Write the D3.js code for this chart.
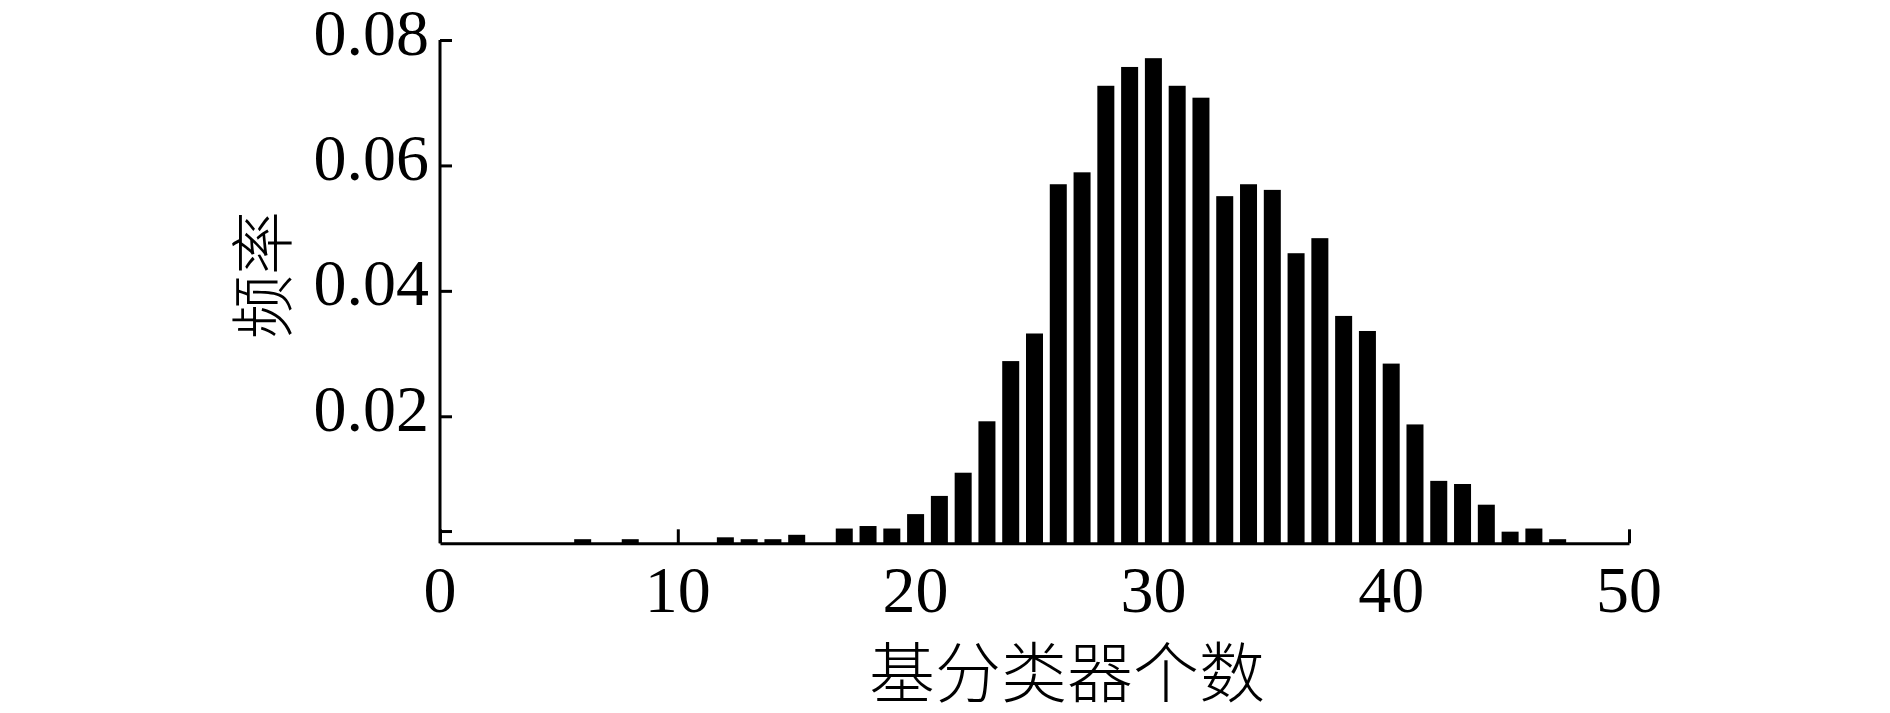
<!DOCTYPE html>
<html lang="zh">

<head>
    <meta charset="UTF-8">
    <title>基分类器个数 频率</title>
    <script src="https://d3js.org/d3.v7.min.js"></script>
    <style>
        body {
            margin: 0;
            padding: 0;
            background: white;
        }

        .tick-label {
            font-family: "Liberation Serif", "Times New Roman", serif;
            font-size: 66px;
            fill: black;
        }

        .cjk {
            font-family: "Noto Sans CJK SC", sans-serif;
            font-weight: 300;
            fill: black;
        }
    </style>
</head>

<body>
    <div id="main"></div>

    <script>
        // number of base classifiers (bins) and their frequency
        var bins = [6, 8, 12, 13, 14, 15, 17, 18, 19, 20, 21, 22, 23, 24, 25, 26, 27, 28, 29, 30,
            31, 32, 33, 34, 35, 36, 37, 38, 39, 40, 41, 42, 43, 44, 45, 46, 47];
        var freq = [0.0004, 0.0004, 0.0007, 0.0004, 0.0004, 0.0011, 0.0021, 0.0025, 0.0021, 0.0044,
            0.0073, 0.0110, 0.0192, 0.0288, 0.0332, 0.0570, 0.0589, 0.0727, 0.0757, 0.0771,
            0.0727, 0.0708, 0.0551, 0.0570, 0.0561, 0.0460, 0.0484, 0.0360, 0.0336, 0.0284,
            0.0187, 0.0097, 0.0092, 0.0059, 0.0016, 0.0021, 0.0004];

        var xTicks = [0, 10, 20, 30, 40, 50];
        var yTicks = [0.0017, 0.02, 0.04, 0.06, 0.08];
        var yTickLabels = ["", "0.02", "0.04", "0.06", "0.08"];

        var xLabel = "基分类器个数";
        var yLabel = "频率";

        var width = 1890;
        var height = 713;

        var svg = d3.select("#main")
            .append("svg")
            .attr("width", width)
            .attr("height", height);

        svg.append("rect")
            .attr("width", width)
            .attr("height", height)
            .attr("fill", "white");

        var x = d3.scaleLinear()
            .domain([0, 50])
            .range([440, 1629]);

        var y = d3.scaleLinear()
            .domain([0, 0.08])
            .range([541.7, 40]);

        var baseY = 543.3;
        var barW = 17;

        // bars
        svg.selectAll(".bar")
            .data(bins)
            .enter()
            .append("rect")
            .attr("class", "bar")
            .attr("x", function(d) { return x(d) - barW / 2 })
            .attr("y", function(d, i) { return y(freq[i]) })
            .attr("width", barW)
            .attr("height", function(d, i) { return baseY - y(freq[i]) })
            .attr("fill", "black");

        // x axis: ticks point inward, no domain past 50
        var xAxis = d3.axisBottom(x)
            .tickValues(xTicks)
            .tickSize(-14)
            .tickSizeOuter(0)
            .tickFormat("");

        var gx = svg.append("g")
            .attr("transform", "translate(0," + baseY + ")")
            .call(xAxis);
        gx.select(".domain").attr("stroke-width", 3);
        gx.selectAll(".tick line").attr("stroke-width", 3);

        svg.selectAll(".xlab")
            .data(xTicks)
            .enter()
            .append("text")
            .attr("class", "tick-label")
            .attr("x", function(d) { return x(d) })
            .attr("y", 612)
            .attr("text-anchor", "middle")
            .text(function(d) { return d });

        // y axis
        var yAxis = d3.axisLeft(y)
            .tickValues(yTicks)
            .tickSize(-12)
            .tickSizeOuter(0)
            .tickFormat("");

        var gy = svg.append("g")
            .attr("transform", "translate(440,0)")
            .call(yAxis);
        gy.select(".domain")
            .attr("d", "M0," + y(0.08) + "V" + baseY)
            .attr("stroke-width", 3);
        gy.selectAll(".tick line").attr("stroke-width", 3);

        svg.selectAll(".ylab")
            .data(yTicks)
            .enter()
            .append("text")
            .attr("class", "tick-label")
            .attr("x", 429)
            .attr("y", function(d) { return y(d) + 14.5 })
            .attr("text-anchor", "end")
            .text(function(d, i) { return yTickLabels[i] });

        // axis titles
        svg.append("text")
            .attr("class", "cjk")
            .attr("x", 1067)
            .attr("y", 697)
            .attr("text-anchor", "middle")
            .style("font-size", "66px")
            .text(xLabel);

        svg.append("text")
            .attr("class", "cjk")
            .attr("transform", "translate(258,275) rotate(-90)")
            .attr("text-anchor", "middle")
            .attr("dominant-baseline", "central")
            .style("font-size", "64px")
            .text(yLabel);
    </script>
</body>

</html>
